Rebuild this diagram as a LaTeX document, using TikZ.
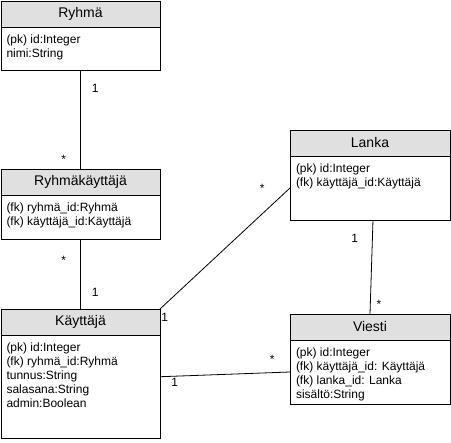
\documentclass[tikz,border=0pt]{standalone}
\usepackage{fontspec}
\setmainfont{Liberation Sans}
\usetikzlibrary{positioning}
\definecolor{headgray}{RGB}{224,224,224}
\tikzstyle{classhead} = [rectangle, draw, fill=headgray, line width=0.9pt,
    minimum width=159pt, minimum height=26pt, inner sep=0pt, outer sep=0pt,
    font=\fontsize{14}{16}\selectfont]
\tikzstyle{classbody} = [rectangle, draw, fill=white, line width=0.9pt,
    minimum width=159pt, inner xsep=5pt, inner ysep=8pt, outer sep=0pt,
    font=\fontsize{12}{14}\selectfont]
\tikzstyle{line} = [draw, line width=0.8pt]
\tikzstyle{mult} = [inner sep=1pt, font=\fontsize{12}{14}\selectfont]
\newcommand{\attrs}[2]{\parbox[t][#1][t]{148pt}{#2}}

\begin{document}
\begin{tikzpicture}[x=1pt, y=-1pt]
  \useasboundingbox (0,0) rectangle (451,443);
  \node [classhead] (ryhma_head) at (80.5,14) {Ryhmä};
  \node [classbody, below=0pt of ryhma_head] (ryhma) {\attrs{27pt}{(pk) id:Integer\\nimi:String}};
  \node [classhead] (ryhmakayttaja_head) at (80.5,182) {Ryhmäkäyttäjä};
  \node [classbody, below=0pt of ryhmakayttaja_head] (ryhmakayttaja) {\attrs{28pt}{(fk) ryhmä\_id:Ryhmä\\(fk) käyttäjä\_id:Käyttäjä}};
  \node [classhead] (kayttaja_head) at (80.5,322) {Käyttäjä};
  \node [classbody, below=0pt of kayttaja_head] (kayttaja) {\attrs{87pt}{(pk) id:Integer\\(fk) ryhmä\_id:Ryhmä\\tunnus:String\\salasana:String\\admin:Boolean}};
  \node [classhead, minimum width=160pt] (lanka_head) at (370,143) {Lanka};
  \node [classbody, minimum width=160pt, below=0pt of lanka_head] (lanka) {\attrs{48pt}{(pk) id:Integer\\(fk) käyttäjä\_id:Käyttäjä}};
  \node [classhead, minimum width=160pt] (viesti_head) at (370,327) {Viesti};
  \node [classbody, minimum width=160pt, below=0pt of viesti_head] (viesti) {\attrs{48pt}{(pk) id:Integer\\(fk) käyttäjä\_id: Käyttäjä\\(fk) lanka\_id: Lanka\\sisältö:String}};
  \path [line] (ryhma) -- node[mult, pos=0.19, right=10pt] {1} node[mult, pos=0.9, left=13pt] {*} (ryhmakayttaja_head);
  \path [line] (ryhmakayttaja) -- node[mult, pos=0.31, left=13pt] {*} node[mult, pos=0.76, right=10pt] {1} (kayttaja_head);
  \path [line] (kayttaja_head.north east) -- node[mult, pos=0, anchor=north west, yshift=-3pt] {1} node[mult, pos=1, left=24pt] {*} (lanka.west);
  \path [line] (kayttaja.7.5) -- node[mult, pos=0, anchor=north west, xshift=10pt] {1} node[mult, pos=1, anchor=south east, xshift=-14pt, yshift=7pt] {*} (viesti.west);
  \path [line] ([xshift=3pt]lanka.south) -- node[mult, pos=0.2, left=13pt] {1} node[mult, pos=0.9, right=5pt] {*} (viesti_head.north);
\end{tikzpicture}
\end{document}
